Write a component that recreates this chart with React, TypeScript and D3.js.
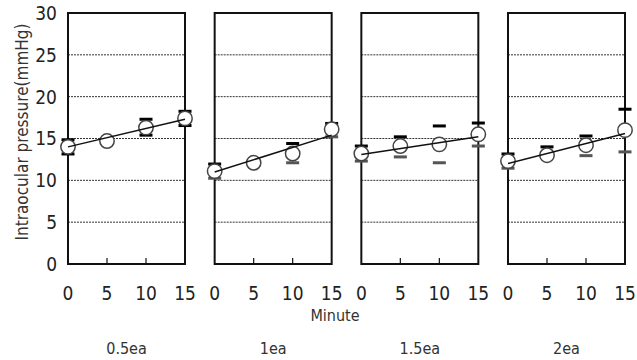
import * as d3 from "d3";
import React, { useEffect, useRef } from "react";

const minutes = [0, 5, 10, 15];
const groups = ["0.5ea", "1ea", "1.5ea", "2ea"];
const yTicks = [0, 5, 10, 15, 20, 25, 30];

// mean IOP per group, per minute
const means = [
  [14.0, 14.7, 16.3, 17.4],
  [11.1, 12.1, 13.2, 16.1],
  [13.2, 14.1, 14.3, 15.5],
  [12.3, 13.0, 14.2, 16.0],
];
const upper = [
  [14.85, 15.0, 17.3, 18.25],
  [11.95, 12.4, 14.4, 16.8],
  [14.1, 15.2, 16.5, 16.85],
  [13.15, 14.0, 15.3, 18.5],
];
const lower = [
  [13.15, 14.4, 15.4, 16.55],
  [10.25, 11.8, 12.1, 15.2],
  [12.3, 12.8, 12.1, 14.1],
  [11.45, 12.7, 12.95, 13.4],
];
// fitted trend line ends (minute 0 and 15)
const trendStart = [14.0, 11.0, 13.1, 12.0];
const trendEnd = [17.3, 15.4, 15.2, 15.6];

const FONT = "'DejaVu Sans', sans-serif";

const App: React.FC = () => {
  const svgRef = useRef<SVGSVGElement>(null);

  useEffect(() => {
    const svg = d3.select(svgRef.current);
    svg.selectAll("*").remove();
    svg.attr("font-family", FONT).style("font-stretch", "condensed");

    const top = 13;
    const bottom = 264;
    const panelW = 117;

    const yScale = d3.scaleLinear().domain([0, 30]).range([bottom, top]);
    const panelScale = d3.scaleLinear().domain([0, 3]).range([68, 508]);

    // y tick labels
    svg
      .append("g")
      .selectAll("text")
      .data(yTicks)
      .join("text")
      .attr("x", 57)
      .attr("y", (d) => yScale(d))
      .attr("dy", "0.36em")
      .attr("text-anchor", "end")
      .attr("font-size", 19)
      .attr("fill", "#222")
      .text((d) => d);

    // y title
    svg
      .append("text")
      .attr("transform", `translate(22, 132) rotate(-90)`)
      .attr("text-anchor", "middle")
      .attr("dy", "0.36em")
      .attr("font-size", 17)
      .attr("fill", "#333")
      .text("Intraocular pressure(mmHg)");

    groups.forEach((g, gi) => {
      const x0 = panelScale(gi);
      const xScale = d3.scaleLinear().domain([0, 15]).range([x0, x0 + panelW]);
      const panel = svg.append("g");

      // dashed grid
      panel
        .selectAll("line.grid")
        .data(yTicks.filter((d) => d > 0 && d < 30))
        .join("line")
        .attr("class", "grid")
        .attr("x1", x0)
        .attr("x2", x0 + panelW)
        .attr("y1", (d) => yScale(d))
        .attr("y2", (d) => yScale(d))
        .attr("stroke", "#333")
        .attr("stroke-width", 1)
        .attr("stroke-dasharray", "2,1");

      // frame
      panel
        .append("rect")
        .attr("x", x0)
        .attr("y", top)
        .attr("width", panelW)
        .attr("height", bottom - top)
        .attr("fill", "none")
        .attr("stroke", "#111")
        .attr("stroke-width", 2);

      // inner x ticks
      panel
        .selectAll("line.tick")
        .data(minutes.filter((m) => m > 0 && m < 15))
        .join("line")
        .attr("class", "tick")
        .attr("x1", (d) => xScale(d))
        .attr("x2", (d) => xScale(d))
        .attr("y1", bottom)
        .attr("y2", bottom - 6)
        .attr("stroke", "#111")
        .attr("stroke-width", 1.2);

      // x tick labels
      panel
        .selectAll("text.xt")
        .data(minutes)
        .join("text")
        .attr("class", "xt")
        .attr("x", (d) => xScale(d))
        .attr("y", 293)
        .attr("dy", "0.36em")
        .attr("text-anchor", "middle")
        .attr("font-size", 19)
        .attr("fill", "#222")
        .text((d) => d);

      // group label
      panel
        .append("text")
        .attr("x", x0 + panelW / 2)
        .attr("y", 348)
        .attr("dy", "0.36em")
        .attr("text-anchor", "middle")
        .attr("font-size", 16)
        .attr("fill", "#333")
        .text(g);

      const capW = 13;
      const capH = 3;
      // upper caps
      panel
        .selectAll("rect.up")
        .data(minutes)
        .join("rect")
        .attr("class", "up")
        .attr("x", (d) => xScale(d) - capW / 2)
        .attr("y", (_, i) => yScale(upper[gi][i]) - capH / 2)
        .attr("width", capW)
        .attr("height", capH)
        .attr("fill", "#000");
      // lower caps
      panel
        .selectAll("rect.lo")
        .data(minutes)
        .join("rect")
        .attr("class", "lo")
        .attr("x", (d) => xScale(d) - capW / 2)
        .attr("y", (_, i) => yScale(lower[gi][i]) - capH / 2)
        .attr("width", capW)
        .attr("height", capH)
        .attr("fill", gi === 0 ? "#000" : "#555");

      // mean markers
      panel
        .selectAll("circle")
        .data(minutes)
        .join("circle")
        .attr("cx", (d) => xScale(d))
        .attr("cy", (_, i) => yScale(means[gi][i]))
        .attr("r", 7.2)
        .attr("fill", "#fff")
        .attr("stroke", "#444")
        .attr("stroke-width", 1.5);

      // trend line
      panel
        .append("line")
        .attr("x1", xScale(0))
        .attr("x2", xScale(15))
        .attr("y1", yScale(trendStart[gi]))
        .attr("y2", yScale(trendEnd[gi]))
        .attr("stroke", "#111")
        .attr("stroke-width", 1.5);
    });

    svg
      .append("text")
      .attr("x", 335)
      .attr("y", 315)
      .attr("dy", "0.36em")
      .attr("text-anchor", "middle")
      .attr("font-size", 16)
      .attr("fill", "#333")
      .text("Minute");
  }, []);

  return (
    <svg
      ref={svgRef}
      width={637}
      height={360}
      style={{ position: "absolute", left: 0, top: 0, background: "#fff" }}
    />
  );
};

export default App;
